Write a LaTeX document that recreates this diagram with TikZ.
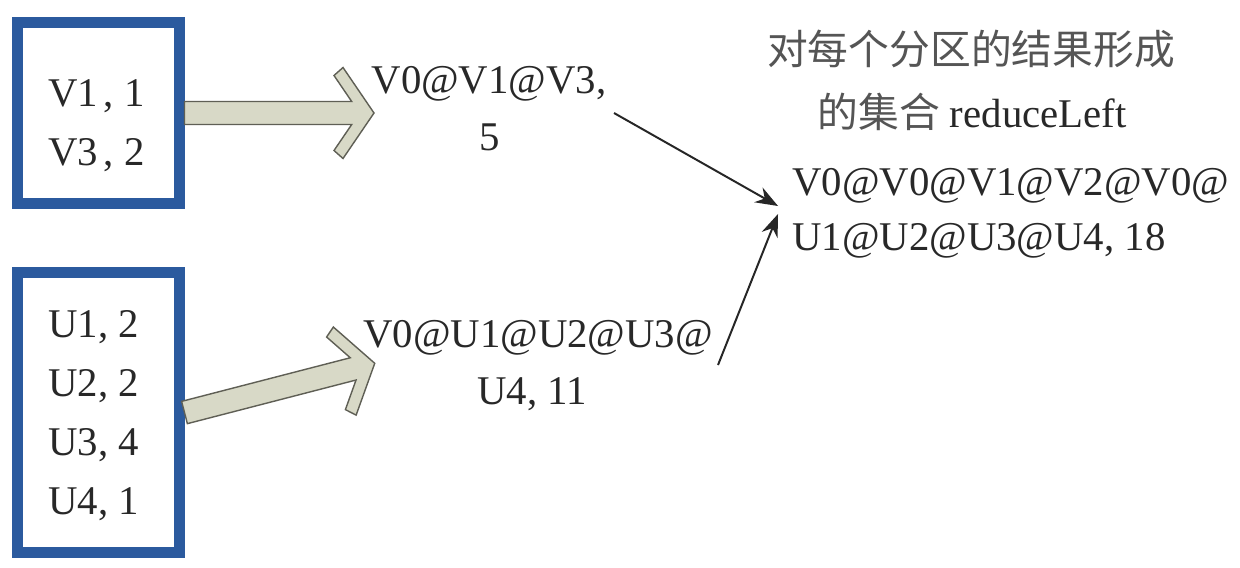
\documentclass[tikz,border=0pt]{standalone}
\usepackage{fontspec}
\setmainfont{Liberation Serif}
\newfontfamily\cjk{Noto Sans CJK SC}
\usetikzlibrary{arrows.meta}
\definecolor{boxblue}{RGB}{43,90,158}
\definecolor{arrfill}{RGB}{216,217,199}
\definecolor{arrline}{RGB}{95,95,85}
\definecolor{txt}{RGB}{40,40,40}
\definecolor{cjktxt}{RGB}{85,85,85}
\tikzset{
  part/.style={draw=boxblue, line width=7.8pt, fill=white, inner sep=0pt},
  lbl/.style={inner sep=0pt, text=txt, font=\fontsize{29}{38}\selectfont},
  cjklbl/.style={inner sep=0pt, text=cjktxt, font=\fontsize{29}{38}\selectfont\cjk},
  thinarrow/.style={draw=black!85, line width=1.4pt, -{Stealth[length=16pt,width=12pt]}},
  barrowstyle/.style={draw=arrline, fill=arrfill, line width=1pt, line join=miter},
  pics/barrow/.style={code={
    \path[barrowstyle] (0,11.5) -- (#1-22.3,11.5) -- (#1-40,37.5) -- (#1-31,45.5)
      -- (#1,0) -- (#1-31,-45.5) -- (#1-40,-37.5) -- (#1-22.3,-11.5) -- (0,-11.5) -- cycle;}}
}
\begin{document}
\begin{tikzpicture}[x=0.025cm,y=-0.025cm]
\useasboundingbox (0,0) rectangle (1240,567);
\fill[white] (0,0) rectangle (1240,567);

% partition boxes
\node[part, minimum width=4.025cm, minimum height=4.525cm] (box1) at (98.5,113) {};
\node[part, minimum width=4.025cm, minimum height=7cm] (box2) at (98.5,412.5) {};

% block arrows (box -> partial result)
\pic at (box1.east) {barrow=189.5};
\pic[rotate=14.5] at (box2.east) {barrow=196.5};

% box contents
\node[lbl, anchor=base west] (v1) at (48,106) {V1\kern4pt, 1};
\node[lbl, anchor=base west] (v3) at (48,165) {V3\kern4pt, 2};
\node[lbl, anchor=base west] (u1) at (48,337) {U1, 2};
\node[lbl, anchor=base west] (u2) at (48,396) {U2, 2};
\node[lbl, anchor=base west] (u3) at (48,455) {U3, 4};
\node[lbl, anchor=base west] (u4) at (48,514) {U4, 1};

% partial results
\node[lbl, anchor=base] (m1a) at (489,93) {V0@V1@V3,};
\node[lbl, anchor=base] (m1b) at (490,150) {5};
\node[lbl, anchor=base] (m2a) at (538,347) {V0@U1@U2@U3@};
\node[lbl, anchor=base] (m2b) at (532,404) {U4, 11};

% final result
\node[cjklbl, anchor=base] (r1) at (971,64) {对每个分区的结果形成};
\node[lbl, anchor=base] (r2) at (972,127) {{\cjk\color{cjktxt}的集合} reduceLeft};
\node[lbl, anchor=base west] (r3) at (792,195) {V0@V0@V1@V2@V0@};
\node[lbl, anchor=base west] (r4) at (792,250) {U1@U2@U3@U4, 18};

% thin arrows
\coordinate (t1s) at (614,113);
\coordinate (t1e) at (778,206);
\coordinate (t2s) at (718,365);
\coordinate (t2e) at (778,214);
\draw[thinarrow] (t1s) -- (t1e);
\draw[thinarrow] (t2s) -- (t2e);
\end{tikzpicture}
\end{document}
